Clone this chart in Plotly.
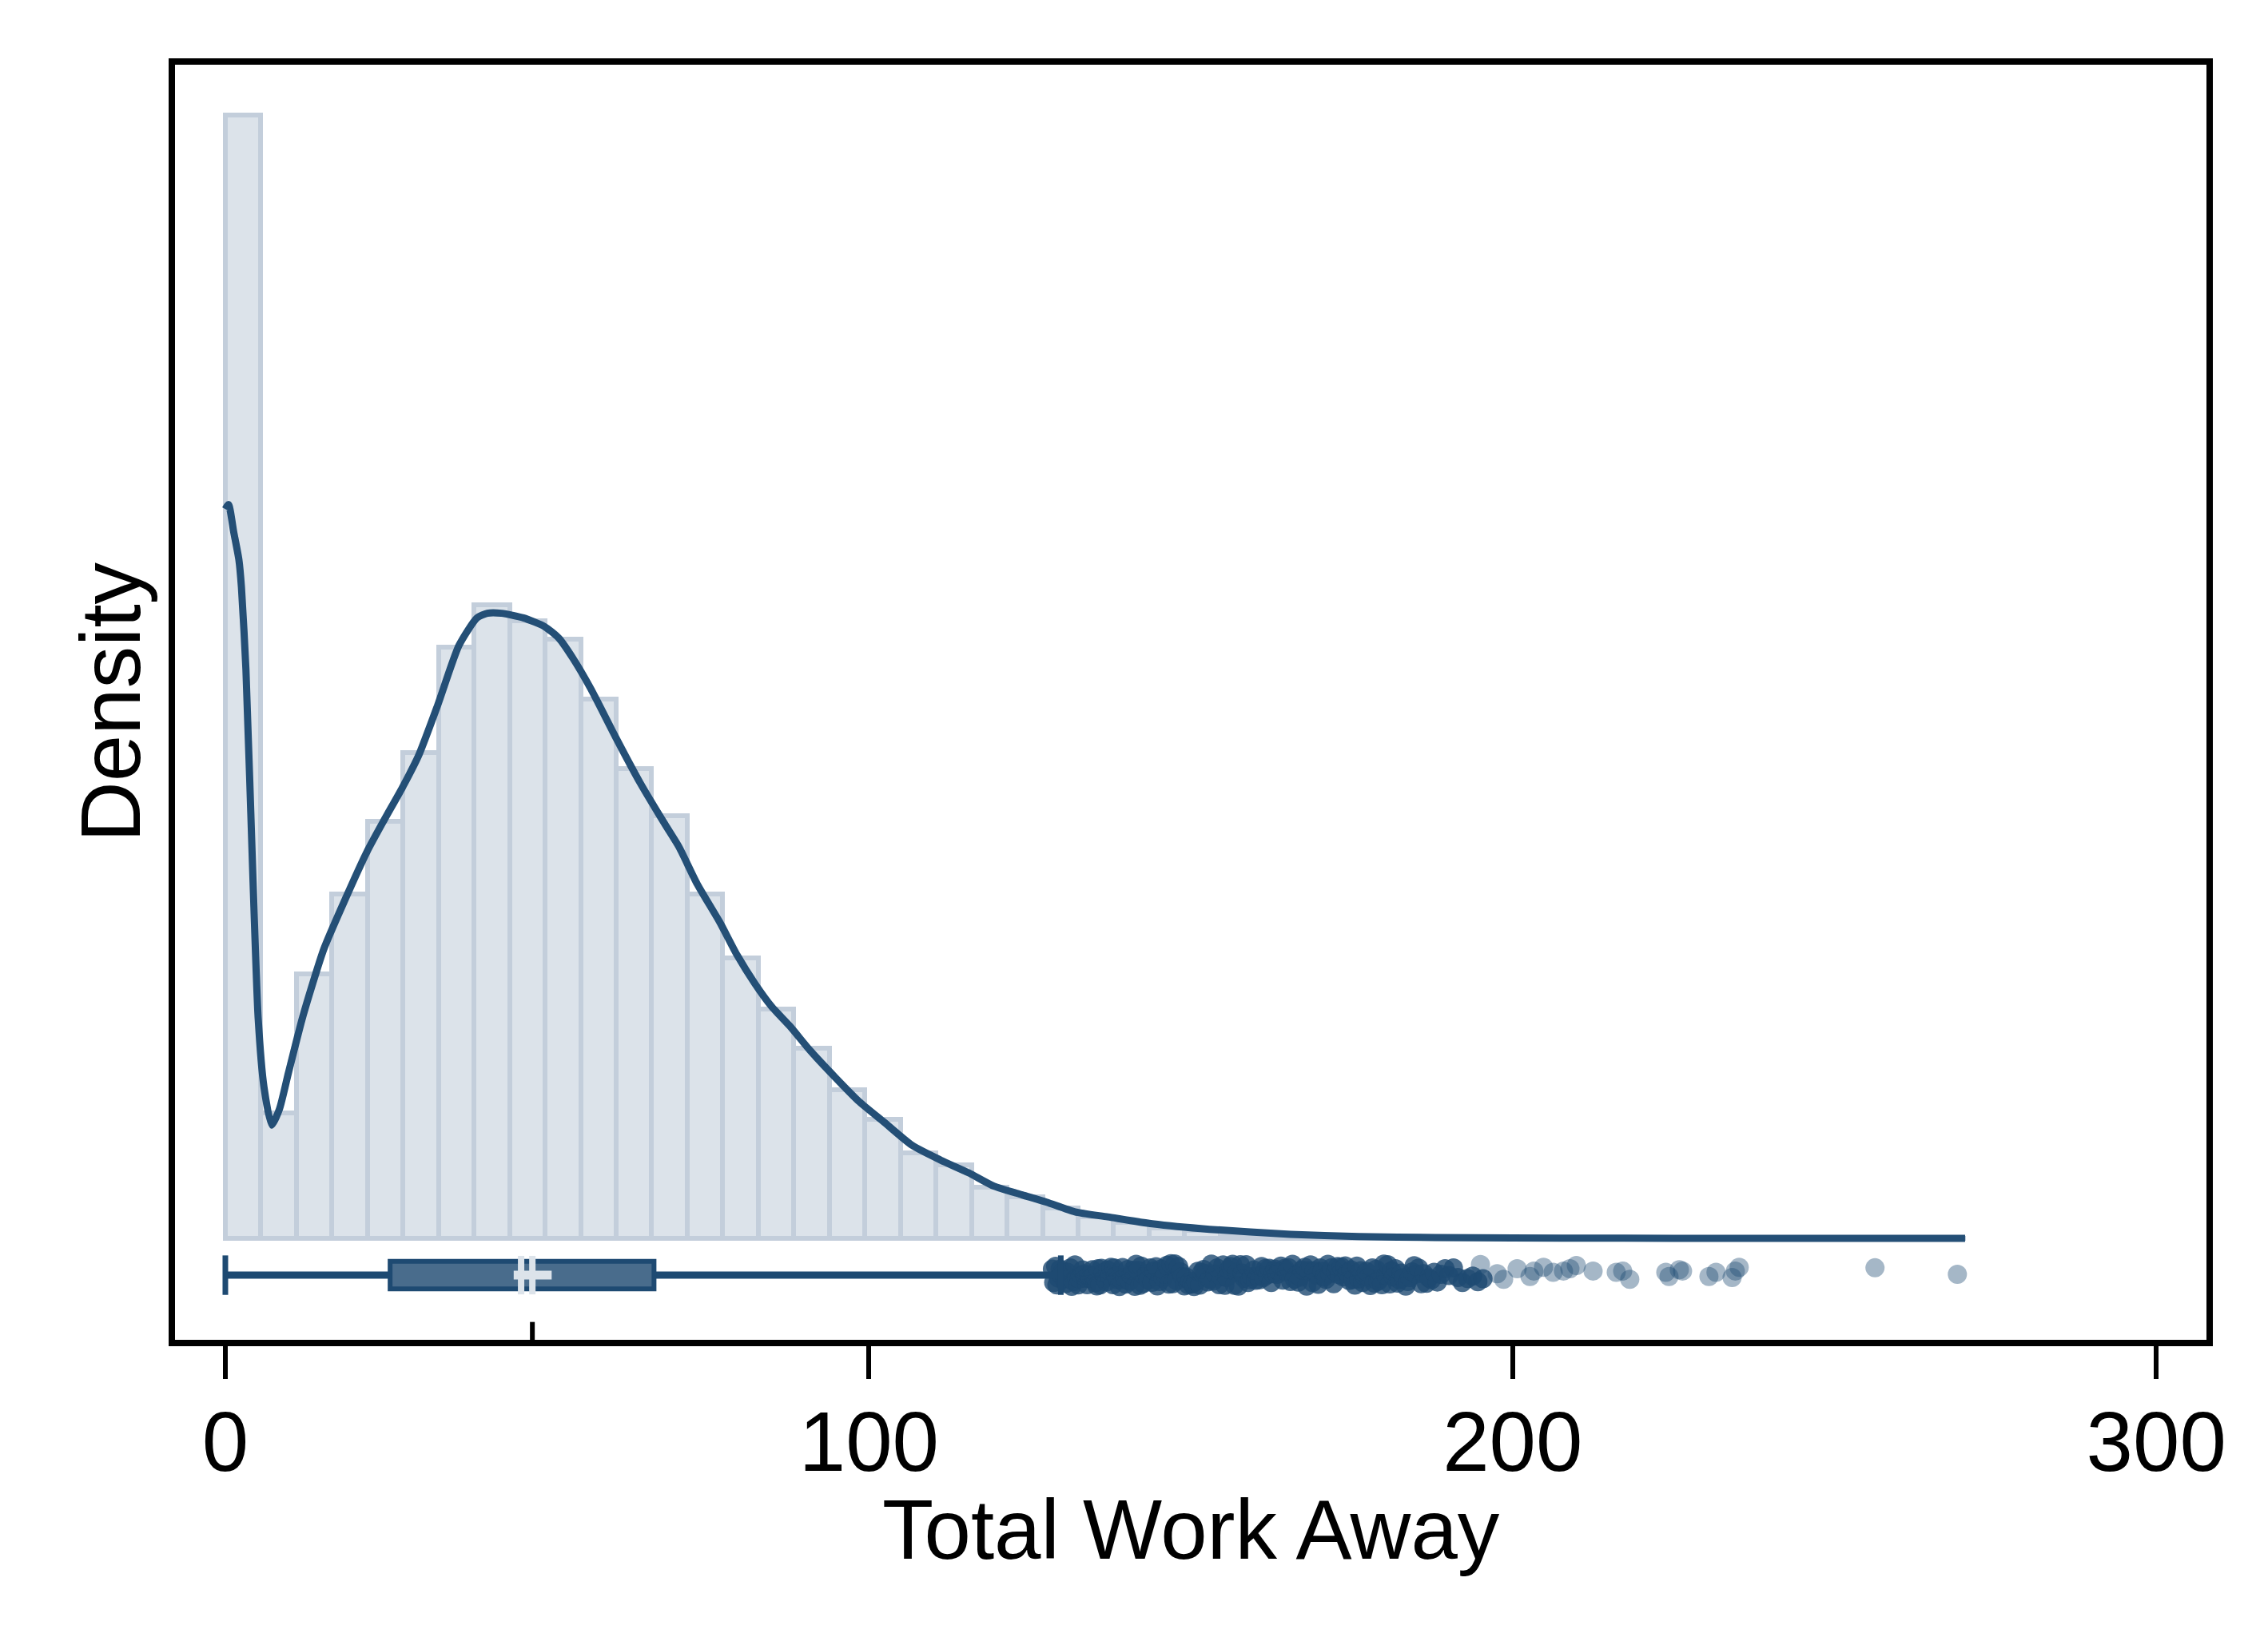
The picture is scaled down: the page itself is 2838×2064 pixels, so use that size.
import plotly.graph_objects as go

# histogram: 49 bins of equal width starting at 0, heights as density (arbitrary units, no y ticks)
bin_width = 5.52
density = [24.5, 2.74, 5.77, 7.51, 9.10, 10.59, 12.90, 13.82, 13.47, 13.06,
           11.76, 10.24, 9.22, 7.51, 6.12, 5.01, 4.14, 3.25, 2.60, 1.86,
           1.60, 1.12, 0.91, 0.66, 0.47, 0.35, 0.23, 0.17, 0.10, 0.09,
           0.07, 0.05, 0.035, 0.025, 0.015, 0.010, 0.006, 0.005, 0.003, 0.003,
           0.003, 0.003, 0.002, 0, 0, 0, 0.001, 0, 0.001]

# kernel density curve
kde_x = [0.0, 0.5, 1.3, 2.1, 2.5, 3.2, 4.3, 5.1, 6.0, 7.2, 8.4, 9.8, 12.0, 15.3,
         18.7, 22.0, 24.7, 27.5, 30.0, 33.0, 36.3, 39.1, 40.7, 42.9, 46.3, 49.6,
         51.8, 54.0, 56.8, 60.6, 64.5, 68.3, 70.5, 73.3, 76.8, 79.5, 82.3, 84.9,
         87.7, 90.9, 94.7, 98.5, 102.3, 106.7, 111.1, 115.5, 119.4, 123.8, 127.6,
         132.0, 137.1, 144.0, 152.9, 165.5, 176.1, 188.0, 200.0, 215.0, 235.0,
         255.0, 270.3]
kde_y = [15.9, 16.0, 15.4, 14.8, 14.2, 12.4, 7.8, 4.8, 3.3, 2.47, 2.82, 3.61, 4.82, 6.31,
         7.42, 8.43, 9.13, 9.83, 10.52, 11.63, 12.93, 13.53, 13.63, 13.63, 13.53, 13.34,
         13.09, 12.65, 11.98, 10.94, 9.92, 9.03, 8.53, 7.73, 6.9, 6.18, 5.55, 5.05,
         4.63, 4.09, 3.52, 2.98, 2.54, 2.03, 1.71, 1.43, 1.14, 0.95, 0.79,
         0.58, 0.47, 0.32, 0.20, 0.09, 0.04, 0.02, 0.01, 0.005, 0.003,
         0.002, 0.001]

# box plot summary
whisker_lo = 0.0
q1 = 25.6
median = 45.95
mean = 47.7
q3 = 66.6
whisker_hi = 129.8
ci_lo, ci_hi = 44.8, 50.7

# outliers: dense band above the upper whisker, then the sparse tail (x, vertical position)
dense_x = [128.5, 128.7, 129.0, 129.2, 129.4, 129.7, 129.9, 130.1, 130.4, 130.6,
           130.8, 131.1, 131.3, 131.5, 131.8, 132.0, 132.3, 132.5, 132.7, 133.0,
           133.2, 133.5, 133.7, 133.9, 134.2, 134.4, 134.7, 134.9, 135.2, 135.4,
           135.6, 135.9, 136.1, 136.4, 136.6, 136.9, 137.1, 137.4, 137.6, 137.9,
           138.1, 138.4, 138.6, 138.9, 139.2, 139.4, 139.7, 139.9, 140.2, 140.5,
           140.7, 141.0, 141.3, 141.5, 141.8, 142.1, 142.3, 142.6, 142.9, 143.2,
           143.4, 143.7, 144.0, 144.3, 144.6, 144.8, 145.1, 145.4, 145.7, 146.0,
           146.3, 146.6, 146.9, 147.2, 147.5, 147.8, 148.1, 148.4, 148.7, 149.0,
           149.3, 149.6, 149.9, 150.2, 150.5, 150.8, 151.1, 151.4, 151.7, 152.0,
           152.3, 152.6, 152.9, 153.2, 153.5, 153.8, 154.1, 154.4, 154.7, 155.0,
           155.3, 155.6, 155.9, 156.2, 156.5, 156.8, 157.1, 157.4, 157.7, 158.0,
           158.3, 158.6, 158.9, 159.2, 159.5, 159.8, 160.1, 160.4, 160.7, 161.0,
           161.3, 161.6, 161.9, 162.2, 162.5, 162.8, 163.1, 163.4, 163.7, 164.0,
           164.3, 164.6, 164.9, 165.2, 165.5, 165.8, 166.1, 166.4, 166.7, 167.0,
           167.3, 167.7, 168.0, 168.3, 168.6, 168.9, 169.2, 169.5, 169.8, 170.1,
           170.4, 170.7, 171.0, 171.3, 171.6, 171.9, 172.2, 172.5, 172.8, 173.1,
           173.4, 173.7, 174.0, 174.3, 174.6, 174.9, 175.2, 175.5, 175.8, 176.1,
           176.4, 176.7, 177.0, 177.3, 177.6, 177.9, 178.2, 178.5, 178.8, 179.1,
           179.4, 179.7, 180.0, 180.3, 180.6, 180.9, 181.2, 181.5, 181.8, 182.1,
           182.4, 182.7, 183.0, 183.4, 183.7, 184.0, 184.4, 184.7, 185.0, 185.4,
           185.8, 186.2, 186.6, 187.0, 187.4, 187.8, 188.3, 188.9, 189.5, 190.1,
           190.8, 191.5, 192.2, 193.0, 193.8, 194.6, 195.4]
sparse_x = [195.0, 197.6, 198.6, 200.7, 202.7, 203.3, 204.8, 206.3, 207.9, 208.9,
            209.9, 212.5, 216.1, 217.1, 218.2, 223.8, 224.3, 225.9, 226.4, 230.5,
            231.6, 234.1, 234.6, 235.2, 256.3, 269.1]
sparse_y = [-0.57, -0.77, -0.89, -0.66, -0.83, -0.71, -0.63, -0.74, -0.71, -0.66,
            -0.59, -0.71, -0.74, -0.71, -0.89, -0.74, -0.83, -0.68, -0.71, -0.83,
            -0.74, -0.85, -0.71, -0.63, -0.64, -0.78]

box_y = -0.80
dark = "#1e4a72"
light = "#dce3ea"
font = "Liberation Sans, Arial, sans-serif"

fig = go.Figure()

fig.add_trace(go.Bar(
    x=[(i + 0.5) * bin_width for i in range(len(density))],
    y=density,
    width=bin_width,
    marker=dict(color=light, line=dict(color="#c3cedb", width=6)),
    hoverinfo="skip",
))

fig.add_trace(go.Scatter(
    x=kde_x, y=kde_y, mode="lines",
    line=dict(color="#244f76", width=9, shape="spline", smoothing=0.6),
    hoverinfo="skip",
))

# whisker line
fig.add_trace(go.Scatter(
    x=[whisker_lo, whisker_hi], y=[box_y, box_y], mode="lines",
    line=dict(color=dark, width=9), hoverinfo="skip",
))

fig.add_trace(go.Box(
    x=dense_x, y0=box_y, orientation="h",
    boxpoints="all", jitter=1, pointpos=0, width=0.5,
    fillcolor="rgba(0,0,0,0)", line=dict(width=0),
    marker=dict(color=dark, size=24, opacity=0.8),
    hoverinfo="skip",
))

fig.add_trace(go.Scatter(
    x=sparse_x, y=sparse_y, mode="markers",
    marker=dict(color=dark, size=24, opacity=0.4, line=dict(width=0)),
    hoverinfo="skip",
))

shapes = []
# whisker caps
for xc in (whisker_lo, whisker_hi):
    shapes.append(dict(type="line", xref="x", yref="y", x0=xc, x1=xc,
                       y0=box_y - 0.43, y1=box_y + 0.43,
                       line=dict(color=dark, width=7)))
# box
shapes.append(dict(type="rect", xref="x", yref="y", x0=q1, x1=q3,
                   y0=box_y - 0.30, y1=box_y + 0.30,
                   fillcolor="#496c8c", line=dict(color=dark, width=6)))
# median / mean marks and interval
shapes.append(dict(type="line", xref="x", yref="y", x0=ci_lo, x1=ci_hi,
                   y0=box_y, y1=box_y, line=dict(color=light, width=11)))
for xm in (median, mean):
    shapes.append(dict(type="line", xref="x", yref="y", x0=xm, x1=xm,
                       y0=box_y - 0.42, y1=box_y + 0.42,
                       line=dict(color=light, width=8)))
# small mark on the axis at the mean
shapes.append(dict(type="line", xref="x", yref="paper", x0=mean, x1=mean,
                   y0=0, y1=0.014, line=dict(color="black", width=6)))

fig.update_layout(
    width=2838, height=2064,
    margin=dict(l=211, r=85, t=73, b=395),
    paper_bgcolor="white", plot_bgcolor="white",
    showlegend=False,
    bargap=0,
    shapes=shapes,
    font=dict(family=font, size=105, color="black"),
    annotations=[dict(
        text="Total Work Away", xref="paper", yref="paper",
        x=0.5, y=-0.1488, xanchor="center", yanchor="middle",
        showarrow=False, font=dict(family=font, size=105, color="black"),
    )],
)

fig.update_xaxes(
    range=[-7.82, 307.8],
    tickvals=[0, 100, 200, 300],
    ticks="outside", ticklen=41, tickwidth=6, tickcolor="black",
    ticklabelstandoff=-11,
    tickfont=dict(family=font, size=105, color="black"),
    showgrid=False, zeroline=False,
    showline=True, mirror=True, linewidth=8, linecolor="black",
    automargin=False,
)
fig.update_yaxes(
    range=[-2.21, 25.59],
    showticklabels=False, ticks="",
    showgrid=False, zeroline=False,
    showline=True, mirror=True, linewidth=8, linecolor="black",
    title=dict(text="Density", font=dict(family=font, size=105), standoff=3),
    automargin=False,
)

fig.write_html("out.html")
